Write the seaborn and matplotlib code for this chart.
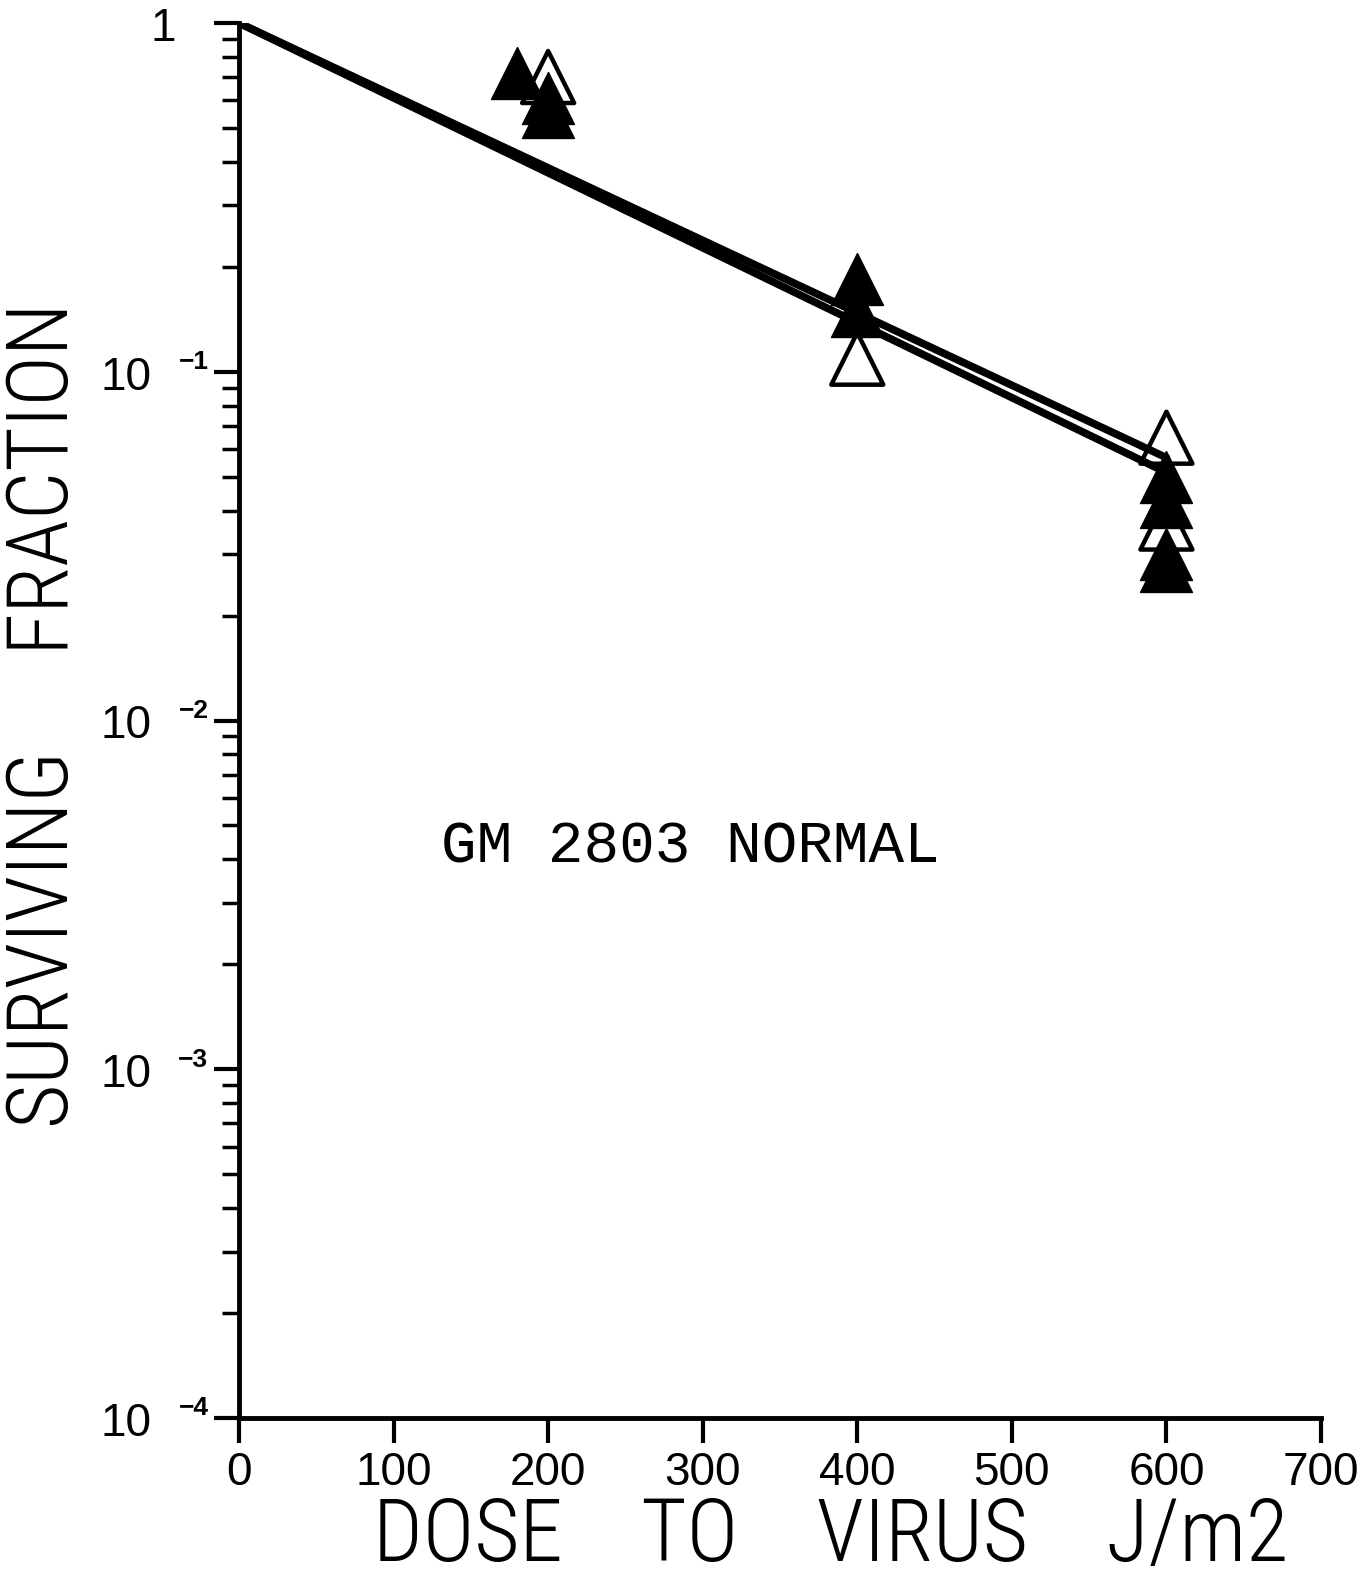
import matplotlib
matplotlib.use("Agg")
import matplotlib.pyplot as plt
from matplotlib import font_manager
import seaborn as sns
import pandas as pd
import numpy as np

# ---- data ----
dose_open = [200, 400, 600, 600]
sf_open = [0.70, 0.109, 0.0647, 0.0367]
dose_filled = [180, 200, 200, 400, 400, 600, 600, 600, 600]
sf_filled = [0.72, 0.61, 0.556, 0.185, 0.149, 0.050, 0.0424, 0.030, 0.0278]
fit_dose = [0, 600]
fit_a = [1.0, 0.0567]
fit_b = [1.0, 0.0514]
x_ticks = [0, 100, 200, 300, 400, 500, 600, 700]
y_ticks = [1e-4, 1e-3, 1e-2, 1e-1, 1]
y_base = ["10", "10", "10", "10", "1"]
y_exp = ["\u22124", "\u22123", "\u22122", "\u22121", ""]
x_words = ["DOSE", "TO", "VIRUS", "J/m2"]
y_words = ["SURVIVING", "FRACTION"]
note = "GM 2803 NORMAL"

sns.set_style("white")
plt.rcParams['font.family'] = ['Liberation Sans', 'DejaVu Sans']
for k in ["text.color", "axes.labelcolor", "xtick.color", "ytick.color", "axes.edgecolor"]:
    plt.rcParams[k] = "black"


def pick_condensed():
    fl = font_manager.fontManager.ttflist
    prefs = ["Liberation Sans Narrow", "Roboto Condensed", "Open Sans Condensed",
             "Noto Sans", "Open Sans", "DejaVu Sans", "Roboto", "Inter"]
    for p in prefs:
        cands = [f for f in fl if f.style == "normal" and
                 (f.name == p or f.name == p + " Condensed") and
                 (f.stretch in ("condensed", "semi-condensed", "extra-condensed") or "Narrow" in f.name
                  or "Condensed" in f.name)]
        if cands:
            def key(f):
                w = f.weight if isinstance(f.weight, int) else 400
                return abs(w - 330)
            f = sorted(cands, key=key)[0]
            w = f.weight if isinstance(f.weight, int) else 400
            return dict(family=f.name, fontstretch=f.stretch, fontweight=w)
    return dict(family="Liberation Sans")


lab_font = pick_condensed()

W, H = 1371, 1579
fig = plt.figure(figsize=(W / 100, H / 100), dpi=100)
ax = fig.add_axes([239 / W, 1 - 1418 / H, (1321 - 239) / W, (1418 - 23) / H])

df_open = pd.DataFrame({"dose": dose_open, "sf": sf_open})
df_filled = pd.DataFrame({"dose": dose_filled, "sf": sf_filled})
df_fit = pd.DataFrame({"dose": fit_dose * 2, "sf": fit_a + fit_b,
                       "fit": ["a"] * 2 + ["b"] * 2})

sns.scatterplot(data=df_open, x="dose", y="sf", marker="^", s=1400,
                facecolor="none", edgecolor="black", linewidth=3.2, ax=ax, zorder=3)
sns.scatterplot(data=df_filled, x="dose", y="sf", marker="^", s=1400,
                color="black", edgecolor="black", linewidth=1, ax=ax, zorder=4)
sns.lineplot(data=df_fit, x="dose", y="sf", units="fit", estimator=None,
             color="black", linewidth=5.5, ax=ax, zorder=5)

ax.set_yscale("log")
ax.set_xlim(0, 700)
ax.set_ylim(1e-4, 1)
ax.set_xticks(x_ticks)
ax.set_xticklabels([str(v) for v in x_ticks], fontsize=33, family="Liberation Sans")
ax.set_yticks(y_ticks)
ax.set_yticklabels(["" for _ in y_ticks])
ax.yaxis.set_minor_locator(matplotlib.ticker.LogLocator(base=10, subs=np.arange(2, 10)))
ax.yaxis.set_minor_formatter(matplotlib.ticker.NullFormatter())

for v, b, e in zip(y_ticks, y_base, y_exp):
    ax.annotate(b, xy=(0, v), xycoords=("axes fraction", "data"),
                xytext=(-63 if e else -45, -4.3), textcoords="offset points",
                ha="right", va="center", fontsize=33, family="Liberation Sans")
    if e:
        ax.annotate(e, xy=(0, v), xycoords=("axes fraction", "data"),
                    xytext=(-22, 7), textcoords="offset points",
                    ha="right", va="center", fontsize=19, family="Liberation Sans",
                    fontweight="bold")

for s in ["top", "right"]:
    ax.spines[s].set_visible(False)
for s in ["left", "bottom"]:
    ax.spines[s].set_linewidth(3.5)
    ax.spines[s].set_color("black")

ax.tick_params(axis="both", which="major", direction="out", length=18, width=3,
               color="black", left=True, bottom=True)
ax.tick_params(axis="y", which="minor", direction="out", length=12, width=2.5,
               color="black", left=True)
ax.tick_params(axis="x", pad=6)

xl = ax.set_xlabel("  ".join(x_words), fontsize=60, **lab_font)
yl = ax.set_ylabel("  ".join(y_words), fontsize=60, **lab_font)
xl.set_va("baseline")
yl.set_va("center")
ax.xaxis.set_label_coords(0.547, (1418 - 1561) / 1395)
ax.yaxis.set_label_coords((45 - 239) / 1082, 0.504)

nt = ax.text(292, 4.33e-3, note, fontsize=43, family="Liberation Mono",
             ha="center", va="center")
ax.grid(False)

# choose word spacing + size so labels span the reference widths with ~61 px capitals
fig.canvas.draw()
r = fig.canvas.get_renderer()
cap_target_pt = 61 / 0.72 * 72 / 100
for t, words, target in [(xl, x_words, 917), (yl, y_words, 826)]:
    best = None
    for n in range(1, 6):
        t.set_fontsize(60)
        t.set_text((" " * n).join(words))
        bb = t.get_window_extent(r)
        w = max(bb.width, bb.height)
        fs = 60 * target / w
        if best is None or abs(fs - cap_target_pt) < best[0]:
            best = (abs(fs - cap_target_pt), n, fs)
    t.set_text((" " * best[1]).join(words))
    t.set_fontsize(best[2])
bb = nt.get_window_extent(r)
nt.set_fontsize(nt.get_fontsize() * 499 / bb.width)

fig.savefig("out.png", dpi=100)
